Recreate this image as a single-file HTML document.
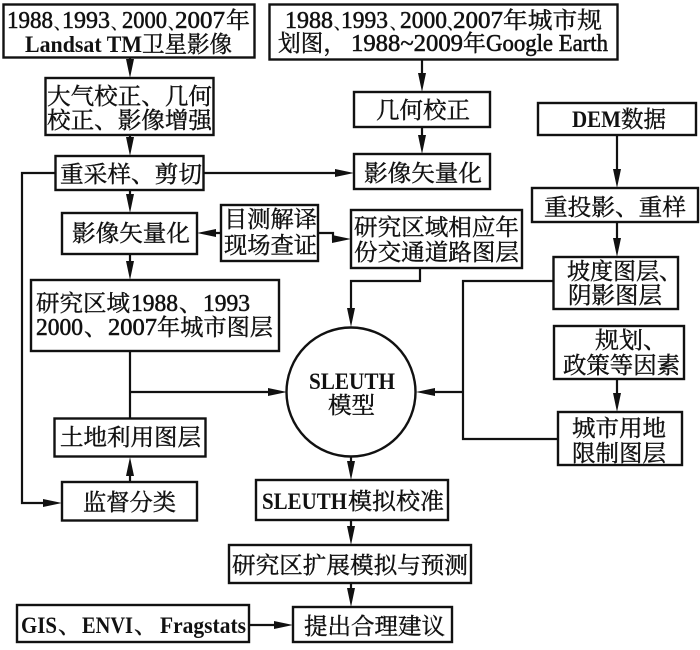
<!DOCTYPE html>
<html><head><meta charset="utf-8"><style>
html,body{margin:0;padding:0;background:#fff}
svg{display:block}
text{font-family:"Liberation Serif","Noto Serif CJK SC",serif;font-size:23px;fill:#111;stroke:#111;stroke-width:.4px}
.n{font-size:24px;stroke-width:.55px}
.l{font-weight:bold;stroke-width:0;font-size:23px}
.d{font-size:16px}
rect{fill:#fff;stroke:#111;stroke-width:2.4}
path.c{fill:none;stroke:#111;stroke-width:2.2}
path.a{fill:#111;stroke:none}
</style></head><body>
<svg width="700" height="650" viewBox="0 0 700 650" xmlns="http://www.w3.org/2000/svg">
<!-- connectors -->
<path class="c" d="M130 57V70M130 135V148M130 190V205M130 254V272M130 351V418M130 392H272M130 482V470
M55 173H22V503H48M203 173H340M422 59V84M422 127V146M617 135V180M617 222V249M617 379V404
M553 281H463V439H558M463 392H430M221 233H212M318 233H333V239H338M420 268V281H351V312
M351 457V472M351 520V537M351 583V599M249 625H279"/>
<path class="a" d="M130 78l-4-19h8zM130 156l-4-19h8zM130 213l-4-19h8zM130 280l-4-19h8zM287 392l-19-4v8zM130 457l-4 19h8zM62 503l-19-4v8zM354 173l-19-4v8zM422 92l-4-19h8zM422 154l-4-19h8zM617 188l-4-19h8zM617 257l-4-19h8zM617 412l-4-19h8zM416 392l19-4v8zM197 233l19-4v8zM351 239l-19-4v8zM351 327l-4-19h8zM351 480l-4-19h8zM351 545l-4-19h8zM351 607l-4-19h8zM293 625l-19-4v8z"/>
<!-- boxes -->
<rect x="3.5" y="4.5" width="251" height="53"/>
<rect x="269.5" y="4.5" width="348" height="55"/>
<rect x="45.5" y="78" width="168" height="57"/>
<rect x="55.5" y="156" width="148" height="34"/>
<rect x="62" y="213" width="135" height="41"/>
<rect x="221" y="205" width="97" height="56"/>
<rect x="351" y="210" width="171" height="58"/>
<rect x="31" y="280" width="248" height="71"/>
<rect x="54.5" y="418.5" width="151" height="38"/>
<rect x="62" y="482" width="135" height="38.5"/>
<rect x="354" y="92" width="136" height="35"/>
<rect x="354" y="154" width="136" height="35"/>
<rect x="538" y="103" width="158" height="32"/>
<rect x="532" y="188" width="166" height="34"/>
<rect x="553.5" y="257" width="124.5" height="52"/>
<rect x="554" y="326" width="130" height="53"/>
<rect x="558" y="412" width="124" height="53"/>
<rect x="256" y="480" width="192" height="40"/>
<rect x="229" y="545" width="242" height="38"/>
<rect x="293" y="607" width="159" height="35"/>
<rect x="17" y="605" width="232" height="37"/>
<circle cx="351" cy="392" r="64.5" fill="#fff" stroke="#111" stroke-width="2.4"/>
<!-- box A -->
<text class="n" x="7" y="28" textLength="46" lengthAdjust="spacingAndGlyphs">1988</text>
<text class="d" x="54" y="29">、</text>
<text class="n" x="62" y="28" textLength="48" lengthAdjust="spacingAndGlyphs">1993</text>
<text class="d" x="111" y="29">、</text>
<text class="n" x="122" y="28" textLength="45" lengthAdjust="spacingAndGlyphs">2000</text>
<text class="d" x="168" y="29">、</text>
<text class="n" x="175" y="28" textLength="50" lengthAdjust="spacingAndGlyphs">2007</text>
<text x="226" y="28" textLength="24" lengthAdjust="spacingAndGlyphs">年</text>
<text class="l" x="25" y="52" textLength="117" lengthAdjust="spacingAndGlyphs">Landsat TM</text>
<text x="142" y="52" textLength="90" lengthAdjust="spacingAndGlyphs">卫星影像</text>
<!-- box B -->
<text class="n" x="285" y="28" textLength="48" lengthAdjust="spacingAndGlyphs">1988</text>
<text class="d" x="334" y="29">、</text>
<text class="n" x="341" y="28" textLength="47" lengthAdjust="spacingAndGlyphs">1993</text>
<text class="d" x="390" y="29">、</text>
<text class="n" x="400" y="28" textLength="47" lengthAdjust="spacingAndGlyphs">2000</text>
<text class="d" x="447" y="29">、</text>
<text class="n" x="453" y="28" textLength="50" lengthAdjust="spacingAndGlyphs">2007</text>
<text x="503" y="28" textLength="99" lengthAdjust="spacingAndGlyphs">年城市规</text>
<text x="278" y="51" textLength="68" lengthAdjust="spacingAndGlyphs">划图，</text>
<text class="n" x="351" y="51" textLength="112" lengthAdjust="spacingAndGlyphs">1988~2009</text>
<text x="463" y="51" textLength="23" lengthAdjust="spacingAndGlyphs">年</text>
<text class="n" x="486" y="51" textLength="122" lengthAdjust="spacingAndGlyphs">Google Earth</text>
<!-- others -->
<text x="47" y="104" textLength="165" lengthAdjust="spacingAndGlyphs">大气校正、几何</text>
<text x="47" y="128" textLength="165" lengthAdjust="spacingAndGlyphs">校正、影像增强</text>
<text x="60" y="182" textLength="142" lengthAdjust="spacingAndGlyphs">重采样、剪切</text>
<text x="72" y="241" textLength="118" lengthAdjust="spacingAndGlyphs">影像矢量化</text>
<text x="224" y="227" textLength="93" lengthAdjust="spacingAndGlyphs">目测解译</text>
<text x="224" y="253" textLength="93" lengthAdjust="spacingAndGlyphs">现场查证</text>
<text x="354" y="235" textLength="165" lengthAdjust="spacingAndGlyphs">研究区域相应年</text>
<text x="354" y="260" textLength="165" lengthAdjust="spacingAndGlyphs">份交通道路图层</text>
<text x="36" y="311" textLength="94" lengthAdjust="spacingAndGlyphs">研究区域</text>
<text class="n" x="131" y="311" textLength="47" lengthAdjust="spacingAndGlyphs">1988</text>
<text x="179" y="311" textLength="23" lengthAdjust="spacingAndGlyphs">、</text>
<text class="n" x="203" y="311" textLength="47" lengthAdjust="spacingAndGlyphs">1993</text>
<text class="n" x="36" y="335" textLength="47" lengthAdjust="spacingAndGlyphs">2000</text>
<text x="84" y="335" textLength="23" lengthAdjust="spacingAndGlyphs">、</text>
<text class="n" x="108" y="335" textLength="49" lengthAdjust="spacingAndGlyphs">2007</text>
<text x="157" y="335" textLength="116" lengthAdjust="spacingAndGlyphs">年城市图层</text>
<text x="60" y="445" textLength="141" lengthAdjust="spacingAndGlyphs">土地利用图层</text>
<text x="83" y="510" textLength="93" lengthAdjust="spacingAndGlyphs">监督分类</text>
<text x="376" y="118" textLength="94" lengthAdjust="spacingAndGlyphs">几何校正</text>
<text x="364" y="181" textLength="118" lengthAdjust="spacingAndGlyphs">影像矢量化</text>
<text class="l" x="572" y="127" textLength="49" lengthAdjust="spacingAndGlyphs">DEM</text>
<text x="621" y="127" textLength="45" lengthAdjust="spacingAndGlyphs">数据</text>
<text x="544" y="215" textLength="142" lengthAdjust="spacingAndGlyphs">重投影、重样</text>
<text x="567" y="279" textLength="115" lengthAdjust="spacingAndGlyphs">坡度图层、</text>
<text x="568" y="303" textLength="94" lengthAdjust="spacingAndGlyphs">阴影图层</text>
<text x="595" y="348" textLength="72" lengthAdjust="spacingAndGlyphs">规划、</text>
<text x="563" y="373" textLength="117" lengthAdjust="spacingAndGlyphs">政策等因素</text>
<text x="572" y="436" textLength="94" lengthAdjust="spacingAndGlyphs">城市用地</text>
<text x="572" y="461" textLength="94" lengthAdjust="spacingAndGlyphs">限制图层</text>
<text class="l" x="309" y="389" textLength="86" lengthAdjust="spacingAndGlyphs">SLEUTH</text>
<text x="328" y="413" textLength="47" lengthAdjust="spacingAndGlyphs">模型</text>
<text class="l" x="262" y="509" textLength="85" lengthAdjust="spacingAndGlyphs">SLEUTH</text>
<text x="348" y="509" textLength="96" lengthAdjust="spacingAndGlyphs">模拟校准</text>
<text x="232" y="573" textLength="236" lengthAdjust="spacingAndGlyphs">研究区扩展模拟与预测</text>
<text x="304" y="634" textLength="141" lengthAdjust="spacingAndGlyphs">提出合理建议</text>
<text class="l" x="21" y="633" textLength="36" lengthAdjust="spacingAndGlyphs">GIS</text>
<text x="58" y="633" textLength="23" lengthAdjust="spacingAndGlyphs">、</text>
<text class="l" x="82" y="633" textLength="51" lengthAdjust="spacingAndGlyphs">ENVI</text>
<text x="134" y="633" textLength="23" lengthAdjust="spacingAndGlyphs">、</text>
<text class="l" x="160" y="633" textLength="86" lengthAdjust="spacingAndGlyphs">Fragstats</text>
</svg>
</body></html>
